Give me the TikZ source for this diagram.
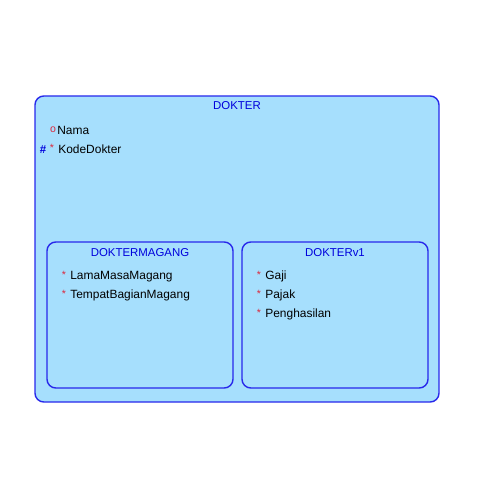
\documentclass[tikz,border=0pt]{standalone}
\usepackage{fontspec}
\setmainfont{Liberation Sans}
\usepackage{xcolor}
\definecolor{boxfill}{RGB}{166,223,253}
\definecolor{boxline}{RGB}{40,40,235}
\definecolor{titleblue}{RGB}{0,0,220}
\definecolor{markred}{RGB}{220,40,60}

\begin{document}
\begin{tikzpicture}[x=0.02cm,y=-0.02cm,
    entity_box/.style={draw=boxline,fill=boxfill,rounded corners=5pt,line width=0.8pt,inner sep=0pt},
    title_text/.style={text=titleblue,font=\fontsize{6.5}{7}\selectfont,inner sep=0pt},
    attr_text/.style={anchor=west,font=\fontsize{6.8}{7}\selectfont,inner sep=0pt},
    mark_text/.style={text=markred,font=\fontsize{6}{7}\selectfont,inner sep=0pt}]

    \useasboundingbox (0,0) rectangle (500,500);

    \node[entity_box,minimum width=404*0.02cm,minimum height=306*0.02cm] (dokter) at (237,249) {};
    \node[entity_box,minimum width=186*0.02cm,minimum height=146*0.02cm] (magang) at (140,315) {};
    \node[entity_box,minimum width=186*0.02cm,minimum height=146*0.02cm] (v1) at (335,315) {};

    \node[title_text] (dokter_t) at (237,106) {DOKTER};
    \node[title_text] (magang_t) at (140,252.5) {DOKTERMAGANG};
    \node[title_text] (v1_t) at (335,252.5) {DOKTERv1};

    % DOKTER
    \node[mark_text] (m0) at (53,130) {o};
    \node[attr_text] (a0) at (57,130.5) {Nama};
    \node[text=titleblue,font=\fontsize{6.5}{7}\selectfont\bfseries,inner sep=0pt] (h1) at (43,149.5) {\#};
    \node[mark_text] (m1) at (52,148) {*};
    \node[attr_text] (a1) at (58,149.5) {KodeDokter};

    % DOKTERMAGANG
    \node[mark_text] (m2) at (64,275) {*};
    \node[attr_text] (a2) at (70,276.5) {LamaMasaMagang};
    \node[mark_text] (m3) at (64,294) {*};
    \node[attr_text] (a3) at (70,295.5) {TempatBagianMagang};

    % DOKTERv1
    \node[mark_text] (m4) at (259,275) {*};
    \node[attr_text] (a4) at (265,276.5) {Gaji};
    \node[mark_text] (m5) at (259,294) {*};
    \node[attr_text] (a5) at (265,295.5) {Pajak};
    \node[mark_text] (m6) at (259,313) {*};
    \node[attr_text] (a6) at (265,314.5) {Penghasilan};
\end{tikzpicture}
\end{document}
